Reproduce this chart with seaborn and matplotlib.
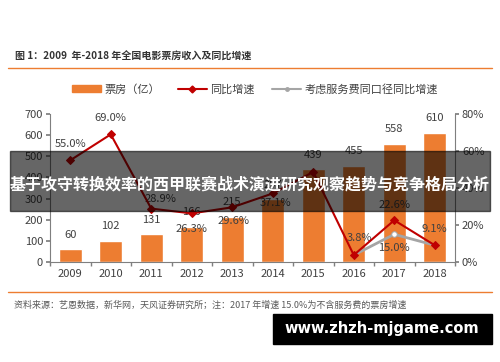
# ==========================================================
# BOX OFFICE 2009-2018 : BARS + GROWTH LINES
# ==========================================================

import numpy as np
import pandas as pd
import matplotlib.pyplot as plt
import matplotlib.patches as mpatches
from matplotlib.lines import Line2D
from matplotlib.ticker import FixedLocator, PercentFormatter
import seaborn as sns

years = ["2009", "2010", "2011", "2012", "2013", "2014", "2015", "2016", "2017", "2018"]
box_office = [60, 102, 131, 166, 215, 297, 439, 455, 558, 610]
growth = [55.0, 69.0, 28.9, 26.3, 29.6, 37.1, 48.7, 3.8, 22.6, 9.1]
growth_fee_years = ["2016", "2017", "2018"]
growth_fee = [3.8, 15.0, 9.1]

title = "图 1：2009  年-2018 年全国电影票房收入及同比增速"
source = "资料来源：艺恩数据，新华网，天风证券研究所；注：2017 年增速 15.0%为不含服务费的票房增速"
banner = "基于攻守转换效率的西甲联赛战术演进研究观察趋势与竞争格局分析"
watermark = "www.zhzh-mjgame.com"

sns.set_theme(style="white")
plt.rcParams["font.family"] = ["Noto Sans CJK SC", "DejaVu Sans"]

ORANGE = "#ED7D31"
RED = "#C00000"
GRAY = "#A5A5A5"
TXT = "#404040"

df = pd.DataFrame({"year": years, "box": box_office, "growth": growth})
df["pos"] = np.arange(len(years))
fee = pd.DataFrame({"year": growth_fee_years, "growth": growth_fee})
fee["pos"] = [years.index(y) for y in growth_fee_years]

fig = plt.figure(figsize=(5, 3.62), dpi=100)
ax = fig.add_axes([0.10, 0.276, 0.81, 0.409])

# ---------------- bars ----------------
sns.barplot(data=df, x="year", y="box", color=ORANGE, width=0.57,
            saturation=1, ax=ax)
ax.set_xlim(-0.5, len(years) - 0.5)
ax.set_ylim(0, 700)
ax.set_yticks(range(0, 701, 100))
ax.set_xlabel("")
ax.set_ylabel("")

for i, v in enumerate(box_office):
    ax.annotate(str(v), (i, v), xytext=(0, 7), textcoords="offset points",
                ha="center", va="bottom", fontsize=8, color=TXT)

# ---------------- lines ----------------
ax2 = ax.twinx()
sns.lineplot(data=fee, x="pos", y="growth", color=GRAY, lw=2, marker="o",
             markersize=4, markerfacecolor="white", markeredgecolor=GRAY,
             ax=ax2, zorder=3)
sns.lineplot(data=df, x="pos", y="growth", color=RED, lw=1.5, marker="D",
             markersize=4.5, markeredgecolor=RED, ax=ax2, zorder=4)
ax2.set_ylim(0, 80)
ax2.set_yticks(range(0, 81, 20))
ax2.yaxis.set_major_formatter(PercentFormatter(decimals=0))
ax2.set_xlim(-0.5, len(years) - 0.5)
ax2.set_xlabel("")
ax2.set_ylabel("")

# label offsets (points) for the red series, None = hidden
red_off = [(0, 12), (0, 12), (7, 7), (0, -11), (1, -10), (2, -7), None,
           (4, 12), (0, 11), (0, 12)]
for i, (v, off) in enumerate(zip(growth, red_off)):
    if off is None:
        continue
    ax2.annotate(f"{v:.1f}%", (i, v), xytext=off, textcoords="offset points",
                 ha="center", va="center", fontsize=8, color=TXT)
ax2.annotate(f"{growth_fee[1]:.1f}%", (fee["pos"][1], growth_fee[1]),
             xytext=(0, -10), textcoords="offset points",
             ha="center", va="center", fontsize=8, color=TXT)

# ---------------- axes styling ----------------
for a in (ax, ax2):
    a.spines["top"].set_visible(False)
    for s in ("left", "right", "bottom"):
        a.spines[s].set_color("#7F7F7F")
        a.spines[s].set_linewidth(0.8)
ax.spines["right"].set_visible(False)
ax2.spines["left"].set_visible(False)
ax2.spines["bottom"].set_visible(False)

ax.tick_params(axis="y", left=True, length=3, color="#7F7F7F",
               labelsize=8, labelcolor=TXT, pad=2)
ax2.tick_params(axis="y", right=True, length=3, color="#7F7F7F",
                labelsize=8, labelcolor=TXT, pad=2)
ax.tick_params(axis="x", which="major", length=0, labelsize=8,
               labelcolor=TXT, pad=5)
ax.xaxis.set_minor_locator(FixedLocator(np.arange(-0.5, len(years), 1)))
ax.tick_params(axis="x", which="minor", bottom=True, length=3,
               color="#7F7F7F")
ax2.tick_params(axis="x", bottom=False, labelbottom=False)

# ---------------- legend ----------------
handles = [
    mpatches.Patch(color=ORANGE, label="票房（亿）"),
    Line2D([], [], color=RED, lw=1.5, marker="D", markersize=3.5,
           label="同比增速"),
    Line2D([], [], color=GRAY, lw=1.5, marker="o", markersize=2.5,
           label="考虑服务费同口径同比增速"),
]
fig.legend(handles=handles, loc="center", bbox_to_anchor=(0.51, 0.754),
           ncol=3, frameon=False, fontsize=8, handlelength=2.6,
           handleheight=0.6, columnspacing=1.6, handletextpad=0.3,
           labelcolor=TXT)

# ---------------- header / footer ----------------
fig.text(0.03, 1 - 57 / 362, title, fontsize=7.2, fontweight="bold",
         color="#333333", va="center")
fig.add_artist(Line2D([0.016, 0.984], [1 - 68 / 362] * 2, color=ORANGE,
                      lw=1, transform=fig.transFigure))
fig.add_artist(Line2D([0.016, 0.984], [1 - 292 / 362] * 2, color=ORANGE,
                      lw=1, transform=fig.transFigure))
fig.text(0.028, 1 - 305 / 362, source, fontsize=6.5, color="#595959",
         va="center")

# ---------------- overlay banner ----------------
fig.add_artist(mpatches.Rectangle((0.02, 1 - 211 / 362), 0.96, 60 / 362,
                                  transform=fig.transFigure, color="black",
                                  alpha=0.6, zorder=10))
fig.text(0.5, 1 - 184 / 362, banner, fontsize=11.5, fontweight="bold",
         color="white", ha="center", va="center", zorder=11)

# ---------------- watermark ----------------
fig.add_artist(mpatches.Rectangle((273 / 500, 1 - 344 / 362), 219 / 500,
                                  30 / 362, transform=fig.transFigure,
                                  color="black", zorder=10))
fig.text(382 / 500, 1 - 329 / 362, watermark, fontsize=10.5,
         fontweight="bold", color="white", ha="center", va="center",
         zorder=11, family=["DejaVu Sans"])

fig.savefig("out.png", dpi=100)
